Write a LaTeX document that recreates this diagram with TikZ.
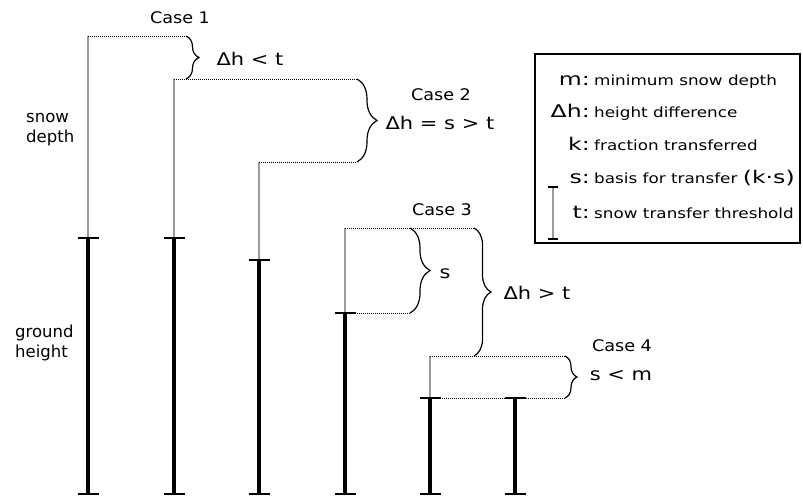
\documentclass[tikz,border=0pt]{standalone}
\usepackage{fontspec}
\setmainfont{DejaVu Sans}
\newfontfamily\casefont{DejaVu Sans}[FakeStretch=1.1]
\newfontfamily\widefont{DejaVu Sans}[FakeStretch=1.2]
\newfontfamily\widerfont{DejaVu Sans}[FakeStretch=1.35]
\usetikzlibrary{decorations.pathreplacing}
\definecolor{snowgray}{RGB}{155,155,155}

\tikzset{
  ground/.style={line width=4pt, black},
  snow/.style={line width=2pt, snowgray},
  groundtick/.style={line width=2.4pt, black},
  dotline/.style={line width=1pt, dash pattern=on 1pt off 1pt},
  bracer/.style={decorate, decoration={brace, amplitude=#1}, line width=1.2pt},
  caselabel/.style={font=\casefont\fontsize{16}{19}\selectfont, anchor=base, inner sep=0pt},
  relabel/.style={font=\widefont\fontsize{17.5}{21}\selectfont, anchor=base, inner sep=0pt},
  sidelabel/.style={font=\fontsize{16.5}{20}\selectfont, align=left, anchor=base west, inner sep=0pt},
  keysym/.style={font=\widerfont\fontsize{17.5}{20}\selectfont, anchor=base east, inner sep=0pt},
  keytext/.style={font=\widefont\fontsize{14}{17}\selectfont, anchor=base west, inner sep=0pt}
}

\begin{document}
\begin{tikzpicture}[x=1pt,y=-1pt]
    \useasboundingbox (0,0) rectangle (803,498);

    % columns: ground height with snow on top
    \foreach \i/\px/\g in {1/88/238, 2/174/238, 3/259/260, 4/345/313, 5/430/398, 6/515/398} {
        \coordinate (base\i) at (\px,494);
        \coordinate (gnd\i) at (\px,\g);
    }
    \foreach \i/\s in {1/36, 2/79, 3/162, 4/228, 5/356} {
        \coordinate (top\i) at (gnd\i |- 0,\s);
        \draw[snow] (gnd\i) -- (top\i);
    }
    \foreach \i in {1,...,6} {
        \draw[ground] (base\i) -- (gnd\i);
        \draw[groundtick] ([xshift=-10.5pt]base\i) -- ([xshift=10.5pt]base\i);
        \draw[groundtick] ([xshift=-10.5pt]gnd\i) -- ([xshift=10.5pt]gnd\i);
    }

    % brace ends
    \coordinate (c1t) at (186,36);
    \coordinate (c1b) at (186,79);
    \coordinate (c2t) at (357,79);
    \coordinate (c2b) at (357,162);
    \coordinate (c3t) at (410,228);
    \coordinate (c3b) at (410,313);
    \coordinate (c3bt) at (474,228);
    \coordinate (c3bb) at (474,356);
    \coordinate (c4t) at (565,356);
    \coordinate (c4b) at (565,398);

    % dotted levels
    \draw[dotline] (top1) -- (c1t);
    \draw[dotline] (top2) -- (c2t);
    \draw[dotline] (top3) -- (c2b);
    \draw[dotline] (top4) -- (c3bt);
    \draw[dotline] (gnd4) -- (c3b);
    \draw[dotline] (top5) -- (c4t);
    \draw[dotline] (gnd5) -- (c4b);

    % braces
    \draw[bracer=13pt] (c1t) -- (c1b);
    \draw[bracer=20pt] (c2t) -- (c2b);
    \draw[bracer=20pt] (c3t) -- (c3b);
    \draw[bracer=17pt] (c3bt) -- (c3bb);
    \draw[bracer=12pt] (c4t) -- (c4b);

    % case labels
    \node[caselabel] (case1) at (180,23) {Case 1};
    \node[relabel] (rel1) at (250,65) {Δh < t};
    \node[caselabel] (case2) at (441,100) {Case 2};
    \node[relabel] (rel2) at (440,129) {Δh = s > t};
    \node[caselabel] (case3) at (442,215) {Case 3};
    \node[relabel] (rel3s) at (445,278) {s};
    \node[relabel] (rel3) at (537,299) {Δh > t};
    \node[caselabel] (case4) at (622,351) {Case 4};
    \node[relabel] (rel4) at (621,380) {s < m};

    % side labels
    \node[sidelabel] (snowlbl) at (26,142) {snow\\depth};
    \node[sidelabel] (groundlbl) at (15,357) {ground\\height};

    % legend
    \draw[line width=1.3pt] (535,54) rectangle (800,243);
    \node[keysym] (km) at (590,85) {m:};
    \node[keytext] (kmt) at (594,85) {minimum snow depth};
    \node[keysym] (kdh) at (590,117) {Δh:};
    \node[keytext] (kdht) at (594,117) {height difference};
    \node[keysym] (kk) at (590,150) {k:};
    \node[keytext] (kkt) at (594,150) {fraction transferred};
    \node[keysym] (ks) at (590,183) {s:};
    \node[keytext] (kst) at (594,183) {basis for transfer {\widerfont\fontsize{17.5}{20}\selectfont (k·s)}};
    \node[keysym] (kt) at (590,218) {t:};
    \node[keytext] (ktt) at (594,218) {snow transfer threshold};
    \coordinate (bart) at (553,187);
    \coordinate (barb) at (553,239);
    \draw[snow, line width=1.5pt] (bart) -- (barb);
    \draw[line width=1.2pt] ([xshift=-5pt]bart) -- ([xshift=5pt]bart);
    \draw[line width=1.2pt] ([xshift=-5pt]barb) -- ([xshift=5pt]barb);
\end{tikzpicture}
\end{document}
